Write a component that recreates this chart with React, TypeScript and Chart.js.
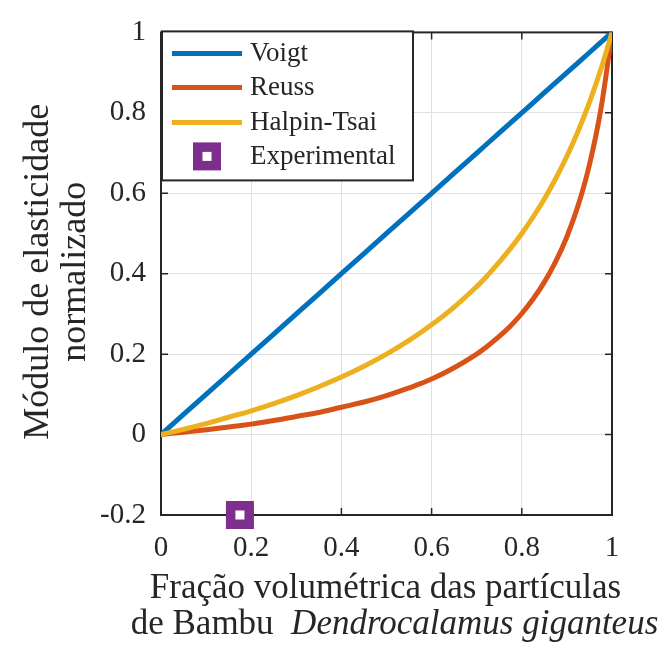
import React, { useEffect, useRef } from "react";
import { Chart, registerables } from "chart.js";

Chart.register(...registerables);

// ---- Data ----
const volumeFractions = [
  0, 0.05, 0.1, 0.15, 0.2, 0.25, 0.3, 0.35, 0.4, 0.45, 0.5, 0.55, 0.6, 0.65, 0.7,
  0.725, 0.75, 0.775, 0.8, 0.825, 0.85, 0.875, 0.9, 0.925, 0.95, 0.975, 1,
];
const voigtValues = [
  0, 0.05, 0.1, 0.15, 0.2, 0.25, 0.3, 0.35, 0.4, 0.45, 0.5, 0.55, 0.6, 0.65, 0.7,
  0.725, 0.75, 0.775, 0.8, 0.825, 0.85, 0.875, 0.9, 0.925, 0.95, 0.975, 1,
];
const reussValues = [
  0, 0.006, 0.012, 0.019, 0.026, 0.035, 0.045, 0.055, 0.068, 0.081, 0.097, 0.116, 0.138, 0.166, 0.2,
  0.221, 0.244, 0.27, 0.301, 0.337, 0.379, 0.43, 0.492, 0.57, 0.671, 0.807, 1,
];
const halpinTsaiValues = [
  0, 0.013, 0.027, 0.043, 0.059, 0.077, 0.097, 0.119, 0.143, 0.17, 0.2, 0.234, 0.273, 0.317, 0.368,
  0.397, 0.429, 0.463, 0.5, 0.541, 0.586, 0.636, 0.692, 0.755, 0.826, 0.907, 1,
];
const experimentalFractions = [0.175];
const experimentalValues = [-0.2];

const seriesLabels = ["Voigt", "Reuss", "Halpin-Tsai", "Experimental"];
const seriesColors = ["#0072BD", "#D95319", "#EDB120", "#7E2F8E"];

const xTickValues = [0, 0.2, 0.4, 0.6, 0.8, 1];
const yTickValues = [-0.2, 0, 0.2, 0.4, 0.6, 0.8, 1];

const xTitleLine1 = "Fração volumétrica das partículas";
const xTitleLine2Plain = "de Bambu  ";
const xTitleLine2Italic = "Dendrocalamus giganteus";
const yTitleLines = ["Módulo de elasticidade", "normalizado"];

const FONT = '"Liberation Serif", "Times New Roman", Times, serif';
const AXIS_COLOR = "#262626";

const fmt = (v: number) => String(Number(Number(v).toFixed(2)));

const framePlugin = {
  id: "frameAndText",
  beforeDatasetsDraw(chart: any) {
    const { ctx, chartArea } = chart;
    const { left, right, top, bottom } = chartArea;
    const xs = chart.scales.x;
    const ys = chart.scales.y;
    ctx.save();
    ctx.strokeStyle = AXIS_COLOR;
    ctx.lineWidth = 2;
    ctx.strokeRect(left, top, right - left, bottom - top);
    ctx.lineWidth = 1.5;
    const tl = 7;
    ctx.beginPath();
    xTickValues.forEach((v) => {
      const px = xs.getPixelForValue(v);
      ctx.moveTo(px, bottom);
      ctx.lineTo(px, bottom - tl);
      ctx.moveTo(px, top);
      ctx.lineTo(px, top + tl);
    });
    yTickValues.forEach((v) => {
      const py = ys.getPixelForValue(v);
      ctx.moveTo(left, py);
      ctx.lineTo(left + tl, py);
      ctx.moveTo(right, py);
      ctx.lineTo(right - tl, py);
    });
    ctx.stroke();
    ctx.restore();
  },
  afterDatasetsDraw(chart: any) {
    const { ctx, chartArea } = chart;
    const { left, top } = chartArea;
    ctx.save();
    // legend box
    const bx = left + 1;
    const by = top - 1;
    const bw = 251;
    const bh = 149;
    ctx.fillStyle = "#ffffff";
    ctx.fillRect(bx, by, bw, bh);
    ctx.strokeStyle = AXIS_COLOR;
    ctx.lineWidth = 2;
    ctx.strokeRect(bx, by, bw, bh);
    const rowY = [45, 79, 114, 148];
    ctx.font = `27px ${FONT}`;
    ctx.textBaseline = "middle";
    ctx.textAlign = "left";
    chart.data.datasets.forEach((ds: any, i: number) => {
      const y = by + (rowY[i] - 23);
      if (i < 3) {
        ctx.strokeStyle = seriesColors[i];
        ctx.lineWidth = 5;
        ctx.beginPath();
        ctx.moveTo(bx + 10, y);
        ctx.lineTo(bx + 80, y);
        ctx.stroke();
      } else {
        const cx = bx + 45;
        ctx.fillStyle = seriesColors[i];
        ctx.fillRect(cx - 14, y - 14, 28, 28);
        ctx.fillStyle = "#ffffff";
        ctx.fillRect(cx - 4.5, y - 4.5, 9, 9);
      }
      ctx.fillStyle = AXIS_COLOR;
      ctx.fillText(ds.label, bx + 88, y + 1);
    });
    ctx.restore();
  },
  afterDraw(chart: any) {
    const { ctx, chartArea } = chart;
    const { left, right, top, bottom } = chartArea;
    const cx = (left + right) / 2;
    ctx.save();
    ctx.fillStyle = AXIS_COLOR;
    ctx.textBaseline = "alphabetic";
    // x title
    ctx.font = `35px ${FONT}`;
    ctx.textAlign = "center";
    ctx.fillText(xTitleLine1, cx - 1, 598);
    ctx.textAlign = "left";
    const plainFont = `35px ${FONT}`;
    const italicFont = `italic 35px ${FONT}`;
    ctx.font = plainFont;
    const w1 = ctx.measureText(xTitleLine2Plain).width;
    ctx.font = italicFont;
    const w2 = ctx.measureText(xTitleLine2Italic).width;
    const startX = cx + 8 - (w1 + w2) / 2;
    ctx.font = plainFont;
    ctx.fillText(xTitleLine2Plain, startX, 634);
    ctx.font = italicFont;
    ctx.fillText(xTitleLine2Italic, startX + w1, 634);
    // y title
    const cy = (top + bottom) / 2 - 2;
    ctx.font = `36px ${FONT}`;
    ctx.textAlign = "center";
    const baselines = [48, 85];
    yTitleLines.forEach((line, i) => {
      ctx.save();
      ctx.translate(baselines[i], cy);
      ctx.rotate(-Math.PI / 2);
      ctx.fillText(line, 0, 0);
      ctx.restore();
    });
    ctx.restore();
  },
};

export default function App() {
  const canvasRef = useRef<HTMLCanvasElement | null>(null);

  useEffect(() => {
    if (!canvasRef.current) return;
    const toPoints = (xs: number[], ys: number[]) => xs.map((x, i) => ({ x, y: ys[i] }));
    const lineStyle = (i: number, order: number) => ({
      label: seriesLabels[i],
      showLine: true,
      borderColor: seriesColors[i],
      backgroundColor: seriesColors[i],
      borderWidth: 5,
      pointRadius: 0,
      tension: 0.4,
      borderJoinStyle: "round",
      borderCapStyle: "round",
      order,
    });
    const chart = new Chart(canvasRef.current, {
      type: "scatter",
      data: {
        datasets: [
          { ...lineStyle(0, 3), data: toPoints(volumeFractions, voigtValues), tension: 0 },
          { ...lineStyle(1, 2), data: toPoints(volumeFractions, reussValues) },
          { ...lineStyle(2, 1), data: toPoints(volumeFractions, halpinTsaiValues) },
          {
            label: seriesLabels[3],
            data: toPoints(experimentalFractions, experimentalValues),
            showLine: false,
            pointStyle: "rect",
            pointRadius: 13.1,
            pointBorderWidth: 9.5,
            pointBorderColor: seriesColors[3],
            pointBackgroundColor: "#ffffff",
            borderColor: seriesColors[3],
            backgroundColor: "#ffffff",
            clip: false,
            order: 0,
          },
        ],
      },
      options: {
        animation: false,
        responsive: true,
        maintainAspectRatio: false,
        layout: { padding: { top: 24, right: 48, left: 0, bottom: 0 } },
        plugins: {
          legend: { display: false },
          tooltip: { enabled: false },
        },
        scales: {
          x: {
            type: "linear",
            min: 0,
            max: 1,
            afterFit: (s: any) => {
              s.height = 133;
            },
            afterBuildTicks: (s: any) => {
              s.ticks = xTickValues.map((v) => ({ value: v }));
            },
            grid: { color: "#e0e0e0", lineWidth: 1, drawTicks: false },
            border: { display: false },
            ticks: {
              padding: 16,
              color: AXIS_COLOR,
              font: { family: FONT, size: 29 },
              maxRotation: 0,
              autoSkip: false,
              callback: (v: any) => fmt(v),
            },
          },
          y: {
            type: "linear",
            min: -0.2,
            max: 1,
            afterFit: (s: any) => {
              s.width = 161;
            },
            afterBuildTicks: (s: any) => {
              s.ticks = yTickValues.map((v) => ({ value: v }));
            },
            grid: { color: "#e0e0e0", lineWidth: 1, drawTicks: false },
            border: { display: false },
            ticks: {
              padding: 15,
              color: AXIS_COLOR,
              font: { family: FONT, size: 29 },
              autoSkip: false,
              callback: (v: any) => fmt(v),
            },
          },
        },
      },
      plugins: [framePlugin],
    } as any);
    return () => chart.destroy();
  }, []);

  return (
    <div style={{ position: "fixed", left: 0, top: 0, width: 660, height: 648, background: "#ffffff" }}>
      <canvas ref={canvasRef} />
    </div>
  );
}
